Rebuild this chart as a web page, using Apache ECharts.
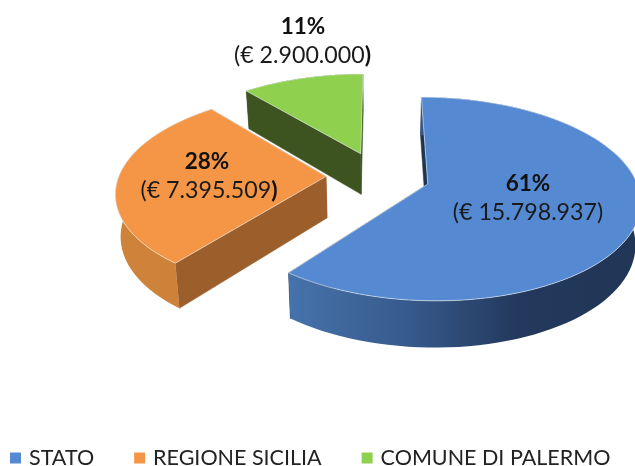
<!DOCTYPE html>
<html><head><meta charset="utf-8">
<style>html,body{margin:0;padding:0;background:#fff}#c{width:635px;height:466px}</style>
<script src="https://cdn.jsdelivr.net/npm/echarts@6/dist/echarts.min.js"></script>
</head><body><div id="c"></div>
<script>
const categories = ['STATO', 'REGIONE SICILIA', 'COMUNE DI PALERMO'];
const values = [15798937, 7395509, 2900000];
const percentLabels = ['61%', '28%', '11%'];
const amountLabels = ['(€ 15.798.937)', '(€ 7.395.509)', '(€ 2.900.000)'];
const topColors = ['#558ad3', '#f49645', '#8fd14f'];

const FONT = 'Lato';
const styles = [
  {outer:[[0,'#4673ac'],[0.35,'#36598a'],[0.65,'#23395d'],[1,'#213655']], start:'#1f3450', end:'#1f3450', label:[528,528,184,213], boldParen:false},
  {outer:[[0,'#cf833a'],[1,'#cb8039']], start:'#9c5f2c', end:'#9c5f2c', label:[207,209,162,191], boldParen:true},
  {outer:[[0,'#3e5420'],[1,'#3e5420']], start:'#3e5420', end:'#3e5420', label:[303,302.5,27,56], boldParen:true}
];
const total = values.reduce((a,b)=>a+b,0);
const cx=378, cy=176, R=207, K=0.47, P=0.143, EX=52, H=41.5, G=0.98;
function proj(X,Z,bottom){
  const f=1/(1-P*Z/204);
  if(bottom) return [cx+X*f*G, cy+(K*Z*G+H)*f];
  return [cx+X*f, cy+K*Z*f];
}
function render(idx){
  const before=values.slice(0,idx).reduce((a,b)=>a+b,0);
  const a0=before/total*Math.PI*2, a1=(before+values[idx])/total*Math.PI*2, mid=(a0+a1)/2;
  const ox=EX*Math.sin(mid), oz=-EX*Math.cos(mid);
  const n=90, arc=[];
  for(let i=0;i<=n;i++){const t=a0+(a1-a0)*i/n; arc.push([ox+R*Math.sin(t), oz-R*Math.cos(t)]);}
  const topArc=arc.map(p=>proj(p[0],p[1],false));
  const botArc=arc.map(p=>proj(p[0],p[1],true));
  const apexT=proj(ox,oz,false), apexB=proj(ox,oz,true);
  const st=styles[idx];
  const poly=(pts,fill,stroke,lw)=>({type:'polygon',shape:{points:pts},style:{fill:fill,stroke:stroke||fill,lineWidth:lw==null?0.5:lw}});
  const grad=new echarts.graphic.LinearGradient(0,0,1,0,st.outer.map(s=>({offset:s[0],color:s[1]})));
  const edge='rgba(235,240,245,0.75)';
  const kids=[
    poly([apexT,topArc[0],botArc[0],apexB],st.start),
    poly([apexT,topArc[n],botArc[n],apexB],st.end),
    poly(topArc.concat(botArc.slice().reverse()),grad,null,0),
    poly([apexT].concat(topArc),topColors[idx],edge,0.8)
  ];
  const [px,lx,ly1,ly2]=st.label;
  const amount=amountLabels[idx];
  const txt=st.boldParen?'{a|'+amount.slice(0,-1)+'}{b|)}':'{a|'+amount+'}';
  kids.push({type:'text',style:{text:percentLabels[idx],x:px,y:ly1,align:'center',verticalAlign:'middle',fontFamily:FONT,fontWeight:'bold',fontSize:22.5,fill:'#111'}});
  kids.push({type:'text',style:{text:txt,x:lx,y:ly2,align:'center',verticalAlign:'middle',
    rich:{a:{fontFamily:FONT,fontSize:23.2,fill:'#1a1a1a'},b:{fontFamily:FONT,fontSize:23.2,fontWeight:'bold',fill:'#111'}}}});
  return {type:'group',children:kids};
}
const chart=echarts.init(document.getElementById('c'),null,{renderer:'canvas'});
chart.setOption({
  animation:false,
  backgroundColor:'#fff',
  legend:{
    data:categories,left:5,top:442,icon:'rect',itemWidth:11,itemHeight:11,itemGap:40,
    textStyle:{fontFamily:FONT,fontSize:21.5,color:'#222',padding:[0,0,0,3]},
    selectedMode:false
  },
  series:categories.map((name,i)=>({
    type:'custom',name:name,coordinateSystem:'none',z:3-i,silent:true,
    itemStyle:{color:topColors[i]},
    data:[[values[i]]],
    renderItem:()=>render(i)
  }))
});
</script></body></html>
